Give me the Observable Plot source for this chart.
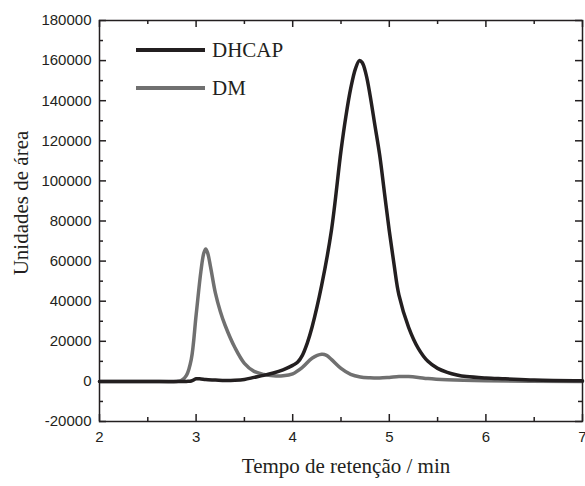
<!DOCTYPE html>
<html>
<head>
<meta charset="utf-8">
<script src="https://cdn.jsdelivr.net/npm/d3@7"></script>
<script src="https://cdn.jsdelivr.net/npm/@observablehq/plot@0.6"></script>
<style>
  html, body { margin: 0; padding: 0; background: #fff; }
  #chart { width: 585px; height: 486px; }
</style>
</head>
<body>
<div id="chart"></div>
<script>
// Retention time (min) and area units for each series
const dhcapTime = [2.0, 2.5, 2.9, 2.95, 3.0, 3.05, 3.1, 3.2, 3.3, 3.4, 3.5, 3.6, 3.7, 3.8, 3.9, 4.0, 4.05, 4.1, 4.15, 4.2, 4.3, 4.4, 4.5, 4.55, 4.6, 4.65, 4.69, 4.72, 4.76, 4.8, 4.85, 4.9, 4.95, 5.0, 5.05, 5.1, 5.2, 5.3, 5.4, 5.5, 5.6, 5.7, 5.8, 6.0, 6.2, 6.5, 7.0];
const dhcapArea = [0, 0, 0, 200, 1300, 1200, 900, 700, 500, 600, 1000, 2000, 3000, 4200, 5800, 8000, 9500, 13000, 19000, 27000, 48000, 75000, 115000, 132000, 146000, 156000, 160000, 159000, 153000, 143000, 128000, 113000, 94000, 75000, 58000, 43000, 27000, 16500, 10000, 6500, 4500, 3200, 2400, 1700, 1300, 700, 300];

const dmTime = [2.0, 2.5, 2.8, 2.85, 2.9, 2.95, 3.0, 3.05, 3.08, 3.1, 3.12, 3.15, 3.2, 3.25, 3.3, 3.4, 3.5, 3.6, 3.7, 3.8, 3.9, 4.0, 4.1, 4.2, 4.3, 4.35, 4.4, 4.5, 4.6, 4.7, 4.8, 4.9, 5.0, 5.1, 5.2, 5.3, 5.4, 5.6, 6.0, 7.0];
const dmArea = [0, 0, 0, 500, 3000, 11000, 33000, 55000, 64000, 66000, 64000, 57000, 44000, 35000, 28000, 17000, 9000, 5000, 3500, 2800, 2800, 3800, 7000, 11500, 13500, 13000, 11000, 6500, 3500, 2200, 1800, 1700, 2000, 2400, 2400, 2000, 1400, 800, 300, 0];

const seriesNames = ["DHCAP", "DM"];
const seriesColors = ["#231f20", "#707070"];

const xMajor = [2, 3, 4, 5, 6, 7];
const xMinor = [2.5, 3.5, 4.5, 5.5, 6.5];
const yMajor = [-20000, 0, 20000, 40000, 60000, 80000, 100000, 120000, 140000, 160000, 180000];
const yMinor = [-10000, 10000, 30000, 50000, 70000, 90000, 110000, 130000, 150000, 170000];

const xTitle = "Tempo de retenção / min";
const yTitle = "Unidades de área";

const dhcap = dhcapTime.map((t, i) => ({t, v: dhcapArea[i], s: seriesNames[0]}));
const dm = dmTime.map((t, i) => ({t, v: dmArea[i], s: seriesNames[1]}));

const W = 585, H = 486;
const mL = 99, mR = 3, mT = 20, mB = 65;
const pw = W - mL - mR, ph = H - mT - mB;
const ink = "#231f20";
const sans = "'Liberation Sans', Arial, sans-serif";
const serif = "'Liberation Serif', 'Times New Roman', serif";

const plot = Plot.plot({
  width: W, height: H,
  marginLeft: mL, marginRight: mR, marginTop: mT, marginBottom: mB,
  style: {fontFamily: sans, fontSize: "15px", color: ink, background: "#fff"},
  x: {domain: [2, 7]},
  y: {domain: [-20000, 180000]},
  marks: [
    // tick labels
    Plot.axisX(xMajor, {anchor: "bottom", tickSize: 0, tickPadding: 10, label: null, fontSize: 15, fill: ink, fontFamily: sans}),
    Plot.axisY(yMajor, {anchor: "left", tickSize: 0, tickPadding: 8, label: null, fontSize: 15, fill: ink, fontFamily: sans, tickFormat: d => String(d)}),
    // inward ticks: bottom & top
    Plot.tickX(xMajor, {x: d => d, insetTop: ph - 7, stroke: ink, strokeWidth: 1.5}),
    Plot.tickX(xMinor, {x: d => d, insetTop: ph - 4, stroke: ink, strokeWidth: 1.5}),
    Plot.tickX(xMajor, {x: d => d, insetBottom: ph - 7, stroke: ink, strokeWidth: 1.5}),
    Plot.tickX(xMinor, {x: d => d, insetBottom: ph - 4, stroke: ink, strokeWidth: 1.5}),
    // inward ticks: left & right
    Plot.tickY(yMajor, {y: d => d, insetRight: pw - 7, stroke: ink, strokeWidth: 1.5}),
    Plot.tickY(yMinor, {y: d => d, insetRight: pw - 4, stroke: ink, strokeWidth: 1.5}),
    Plot.tickY(yMajor, {y: d => d, insetLeft: pw - 7, stroke: ink, strokeWidth: 1.5}),
    Plot.tickY(yMinor, {y: d => d, insetLeft: pw - 4, stroke: ink, strokeWidth: 1.5}),
    // data lines
    Plot.line(dm, {x: "t", y: "v", stroke: seriesColors[1], strokeWidth: 3.5, curve: "catmull-rom"}),
    Plot.line(dhcap, {x: "t", y: "v", stroke: seriesColors[0], strokeWidth: 3.5, curve: "catmull-rom"}),
    Plot.frame({stroke: ink, strokeWidth: 1.5})
  ]
});

document.getElementById("chart").appendChild(plot);

const svg = d3.select(plot);

// axis titles
svg.append("text")
  .attr("x", 346).attr("y", 473)
  .attr("text-anchor", "middle")
  .attr("font-family", serif).attr("font-size", 21).attr("fill", ink)
  .text(xTitle);
svg.append("text")
  .attr("transform", "translate(28,203) rotate(-90)")
  .attr("text-anchor", "middle")
  .attr("font-family", serif).attr("font-size", 21).attr("fill", ink)
  .text(yTitle);

// legend
const lg = svg.append("g").attr("class", "legend");
const legendRows = [50, 88];
seriesNames.forEach((name, i) => {
  const y = legendRows[i];
  lg.append("line").attr("x1", 136).attr("x2", 205).attr("y1", y).attr("y2", y)
    .attr("stroke", seriesColors[i]).attr("stroke-width", 4);
  lg.append("text").attr("x", 212).attr("y", y).attr("dy", "0.35em")
    .attr("text-anchor", "start")
    .attr("font-family", serif).attr("font-size", 21).attr("fill", ink).text(name);
});
</script>
</body>
</html>
